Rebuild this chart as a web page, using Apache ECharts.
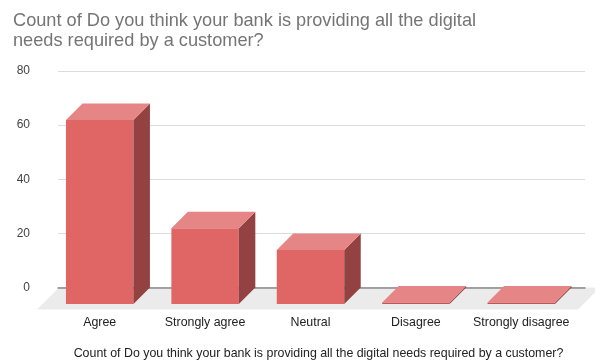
<!DOCTYPE html>
<html>
<head>
<meta charset="utf-8">
<script src="https://cdn.jsdelivr.net/npm/echarts@6/dist/echarts.min.js"></script>
<style>
  html, body { margin: 0; padding: 0; background: #fff; }
  #chart { width: 595px; height: 360px; }
</style>
</head>
<body>
<div id="chart"></div>
<script>
// Survey answers and their counts
const categories = ['Agree', 'Strongly agree', 'Neutral', 'Disagree', 'Strongly disagree'];
const counts = [68, 28, 20, 0, 0];
const yMin = 0, yMax = 80, yStep = 20;

const titleText = 'Count of Do you think your bank is providing all the digital\nneeds required by a customer?';
const axisTitle = 'Count of Do you think your bank is providing all the digital needs required by a customer?';

// 3D box look
const DEPTH = 16.5;
const FRONT = '#e06666';
const TOP = '#e68585';
const SIDE = '#934141';
const FONT = 'Liberation Sans, Arial, sans-serif';

function renderBox(params, api) {
  const idx = api.value(0);
  const v = api.value(1);
  const base = api.coord([idx, 0]);
  const top = api.coord([idx, v]);
  const w = api.size([1, 0])[0] * 0.64;
  const x0 = base[0] - w / 2;
  const x1 = base[0] + w / 2;
  const yb = base[1];
  const yt = Math.min(top[1], yb - 1.5);
  const d = DEPTH;
  return {
    type: 'group',
    children: [
      { type: 'rect', shape: { x: x0, y: yt, width: w, height: yb - yt }, style: { fill: v > 0 ? FRONT : '#c45454' } },
      { type: 'polygon', shape: { points: [[x1, yt], [x1 + d, yt - d], [x1 + d, yb - d], [x1, yb]] }, style: { fill: SIDE } },
      { type: 'polygon', shape: { points: [[x0, yt], [x1, yt], [x1 + d, yt - d], [x0 + d, yt - d]] }, style: { fill: TOP } }
    ]
  };
}

const chart = echarts.init(document.getElementById('chart'), null, { renderer: 'canvas' });
chart.setOption({
  animation: false,
  backgroundColor: '#ffffff',
  title: {
    text: titleText,
    left: 8,
    top: 6,
    textStyle: { fontFamily: FONT, fontSize: 18.2, fontWeight: 'normal', color: '#757575', lineHeight: 20 }
  },
  graphic: [{
    // floor under the boxes
    type: 'polygon',
    z: 0,
    shape: { points: [[59, 287.5], [600, 287.5], [578, 309.5], [37, 309.5]] },
    style: { fill: '#ebebeb' }
  }],
  grid: [
    // back wall with the value gridlines
    { left: 58, right: 10, top: 71, bottom: 72.5, outerBoundsMode: 'none', containLabel: false },
    // front plane where the boxes stand
    { left: 47, right: 21, top: 71 + DEPTH, bottom: 72.5 - DEPTH, outerBoundsMode: 'none', containLabel: false }
  ],
  xAxis: [
    {
      gridIndex: 0, type: 'category', data: categories,
      axisLine: { show: true, lineStyle: { color: '#8a8a8a', width: 1.5 } },
      axisTick: { show: false }, axisLabel: { show: false }, z: 3
    },
    {
      gridIndex: 1, type: 'category', data: categories,
      axisLine: { show: false }, axisTick: { show: false },
      axisLabel: { interval: 0, margin: 13, fontFamily: FONT, fontSize: 12.4, color: '#222' },
      name: axisTitle, nameLocation: 'middle', nameGap: 44,
      nameTextStyle: { fontFamily: FONT, fontSize: 12.4, color: '#222', padding: [0, 0, 0, 16] }
    }
  ],
  yAxis: [
    {
      gridIndex: 0, type: 'value', min: yMin, max: yMax, interval: yStep,
      axisLine: { show: false }, axisTick: { show: false },
      axisLabel: { margin: 28, fontFamily: FONT, fontSize: 12, color: '#444' },
      splitLine: { lineStyle: { color: '#dcdcdc', width: 1 } }
    },
    {
      gridIndex: 1, type: 'value', min: yMin, max: yMax, interval: yStep,
      show: false, splitLine: { show: false }
    }
  ],
  series: [{
    type: 'custom',
    xAxisIndex: 1,
    yAxisIndex: 1,
    z: 5,
    renderItem: renderBox,
    data: counts.map((c, i) => [i, c])
  }]
});
</script>
</body>
</html>
